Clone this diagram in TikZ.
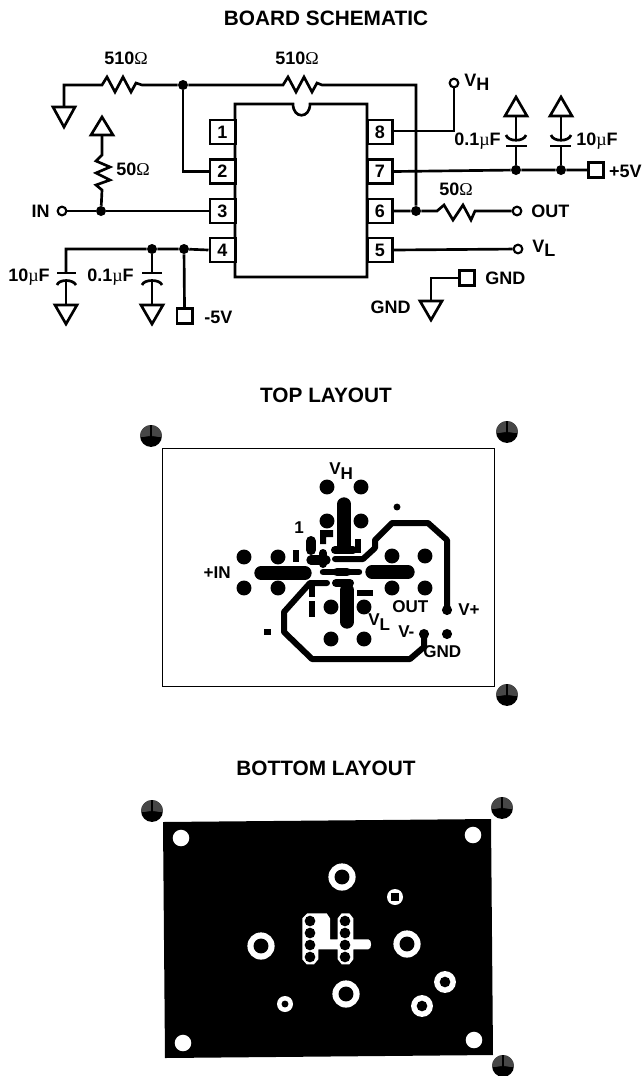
\documentclass[tikz,border=0pt]{standalone}
\usepackage{fontspec}
\setmainfont{Liberation Sans}
\newfontfamily\symf{Liberation Serif}
\newcommand{\Om}{{\symf\mdseries Ω}}
\newcommand{\Mu}{{\symf\mdseries µ}}
\newcommand{\Sb}[1]{\raisebox{-3.2pt}{#1}}
\tikzset{
  wire/.style={line width=2pt,line cap=butt,line join=miter},
  lab/.style={font=\fontsize{13.5}{14}\selectfont\bfseries,inner sep=0pt},
  llab/.style={font=\fontsize{12.8}{14}\selectfont\bfseries,inner sep=0pt},
  ttl/.style={font=\fontsize{15.6}{17}\selectfont\bfseries,inner sep=0pt},
  pinbox/.style={draw,line width=2pt,minimum width=19pt,minimum height=18pt,inner sep=0pt,fill=white,font=\fontsize{13.5}{14}\selectfont\bfseries},
  term/.style={draw,line width=2pt,minimum width=11.5pt,minimum height=11.5pt,inner sep=0pt,fill=white},
  opent/.style={circle,draw,line width=1.6pt,minimum size=6.5pt,inner sep=0pt,fill=white},
  dotj/.style={circle,fill=black,minimum size=7.5pt,inner sep=0pt},
  trace/.style={line width=4.5pt,line cap=round,line join=round},
  fat/.style={line width=10pt,line cap=round},
}
\newcommand{\FidB}[2]{%
  \fill[black] (#1,#2) circle[radius=8.2pt];
  \begin{scope}
    \clip (#1-11,#2-11) rectangle (#1+11,#2);
    \fill[black!72] (#1,#2) circle[radius=8.2pt];
    \foreach \a in {10,30,...,170} \draw[black,line width=.4pt] (#1,#2) -- ++(\a:-8.2pt);
    \draw[black,line width=.8pt] (#1,#2) -- ++(0,-11);
  \end{scope}
}
\newcommand{\Tri}[4]{% name, x, base y, apex y
  \coordinate (#1) at (#2,#3);
  \draw[wire,line join=miter] (#2-11,#3) -- (#2+11,#3) -- (#2,#4) -- cycle;
}
\begin{document}
\begin{tikzpicture}[x=0.75pt,y=-0.75pt]
\useasboundingbox (0,0) rectangle (642,1076);

% ---------- Titles
\node[ttl] (t1) at (326,18) {BOARD SCHEMATIC};
\node[ttl] (t2) at (326,395) {TOP LAYOUT};
\node[ttl] (t3) at (326,768) {BOTTOM LAYOUT};

% ---------- IC
\draw[wire] (235,104) -- (293,104) .. controls (293,119) and (310,119) .. (310,104) -- (367,104) -- (367,277) -- (235,277) -- cycle;
\node[minimum width=99pt,minimum height=130pt,inner sep=0pt] (ic) at (301,190) {};
\node[pinbox] (p1) at (222.5,132) {1};
\node[pinbox] (p2) at (222.5,171.5) {2};
\node[pinbox] (p3) at (222.5,211) {3};
\node[pinbox] (p4) at (222.5,250) {4};
\node[pinbox] (p8) at (380,132) {8};
\node[pinbox] (p7) at (380,171.5) {7};
\node[pinbox] (p6) at (380,211) {6};
\node[pinbox] (p5) at (380,250) {5};

% ---------- junctions
\node[dotj] (j1) at (183,85) {};
\node[dotj] (j2) at (101,211) {};
\node[dotj] (j3) at (152,249) {};
\node[dotj] (j4) at (184,249) {};
\node[dotj] (j5) at (416,211) {};
\node[dotj] (j6) at (516,170) {};
\node[dotj] (j7) at (561,170) {};

% ---------- terminals
\node[opent] (in) at (62,211) {};
\node[opent] (vh) at (454,83) {};
\node[opent] (out) at (517,211) {};
\node[opent] (vl) at (518,249) {};
\node[term] (m5) at (184.5,316) {};
\node[term] (p5v) at (596,170) {};
\node[term] (gt) at (467,278) {};

% ---------- top wires and resistors
\Tri{g1}{64}{107}{127}
\coordinate (r1a) at (102,85);
\coordinate (r1b) at (142,85);
\draw[wire] (g1) |- (r1a) -- ++(5,-8) -- ++(8,15) -- ++(8,-15) -- ++(8,15) -- ++(5,-9) -- (r1b) -- (j1);
\coordinate (r2a) at (283,85);
\coordinate (r2b) at (322,85);
\coordinate (fb) at (416,85);
\draw[wire] (j1) -- (r2a) -- ++(5,-8) -- ++(8,15) -- ++(8,-15) -- ++(8,15) -- ++(5,-9) -- (r2b) -- (fb) -- (j5);
\draw[wire] (j1) |- (p2.west);

% ---------- 50 ohm input
\Tri{g2}{102}{135}{117}
\coordinate (r3a) at (102,155);
\coordinate (r3b) at (102,190);
\draw[wire] (g2) -- (r3a) -- ++(-6,6) -- ++(14,6) -- ++(-14,6) -- ++(14,7) -- ++(-14,5) -- (r3b) -- (j2);
\draw[wire] (in) -- (j2) -- (p3.west);

% ---------- pin 4 and caps
\coordinate (c1t) at (66,249);
\draw[wire] (p4.west) -- (j4) -- (j3) -- (c1t) -- (66,273);
\draw[wire] (57,273) -- (76,273);
\draw[wire] (57,285) .. controls (59,279) and (73,279) .. (76,285);
\Tri{g3}{66}{305}{324}
\draw[wire] (66,281) -- (g3);
\draw[wire] (j3) -- (152,273);
\draw[wire] (142,273) -- (162,273);
\draw[wire] (142,285) .. controls (144,279) and (160,279) .. (162,285);
\Tri{g4}{152}{305}{324}
\draw[wire] (152,281) -- (g4);
\draw[wire] (j4) -- (m5.north);

% ---------- right side
\draw[wire] (vh) -- (454,131) -- (p8.east |- 454,131);
\draw[wire] (p7.east) -- (j6) -- (j7) -- (p5v.west);
\Tri{g5}{516}{116}{97}
\Tri{g6}{561}{116}{97}
\draw[wire] (g5) -- (516,140);
\draw[wire] (506,135) .. controls (508,142) and (524,142) .. (526,135);
\draw[wire] (506,146) -- (527,146);
\draw[wire] (516,146) -- (j6);
\draw[wire] (g6) -- (561,140);
\draw[wire] (551,135) .. controls (553,142) and (569,142) .. (571,135);
\draw[wire] (550,146) -- (571,146);
\draw[wire] (561,146) -- (j7);
\coordinate (r4a) at (437,211);
\coordinate (r4b) at (475,211);
\draw[wire] (p6.east) -- (j5) -- (r4a) -- ++(7,-6) -- ++(9,15) -- ++(10,-15) -- ++(8,15) -- (r4b) -- (out);
\draw[wire] (p5.east) -- (vl);
\Tri{g7}{431}{301}{320}
\draw[wire] (g7) |- (gt.west);

% ---------- schematic labels
\node[lab,anchor=center] (l1) at (126,58) {510\Om};
\node[lab,anchor=center] (l2) at (297,58) {510\Om};
\node[lab,anchor=west] (l3) at (116,169) {50\Om};
\node[lab,anchor=east] (l4) at (50,211) {IN};
\node[lab,anchor=east] (l5) at (50,277) {10\Mu F};
\node[lab,anchor=east] (l6) at (134,277) {0.1\Mu F};
\node[lab,anchor=west] (l7) at (204,317) {-5V};
\node[lab,anchor=west] (l8) at (464,82) {V\Sb{H}};
\node[lab,anchor=east] (l9) at (501,141) {0.1\Mu F};
\node[lab,anchor=west] (l10) at (576,141) {10\Mu F};
\node[lab,anchor=east] (l11) at (642,171) {+5V};
\node[lab,anchor=center] (l12) at (456,189) {50\Om};
\node[lab,anchor=west] (l13) at (531,211) {OUT};
\node[lab,anchor=west] (l14) at (532,248) {V\Sb{L}};
\node[lab,anchor=west] (l15) at (485,278) {GND};
\node[lab,anchor=east] (l16) at (411,307) {GND};

% ---------- TOP LAYOUT
\draw[line width=.6pt] (162,448) rectangle (494,686);
\FidB{151}{436}
\FidB{507}{432}
\FidB{507}{695}
\foreach \x/\y in {327/487,361/487,327/521,361/521,244/557,278/557,244/588,278/588,392/556,425/556,392/588,425/588,331/607,364/607,331/639,364/639}
  \fill (\x,\y) circle[radius=5.6pt];
\fill (397,507) circle[radius=2.6pt];
\fill (447,610) circle[radius=3.8pt];
\fill (447,634) circle[radius=3.8pt];
\fill (424,634) circle[radius=3.8pt];
\fill (263.5,629) rectangle (270.5,635);
\draw[fat] (344,504) -- (344,545);
\draw[fat] (261,573) -- (305,573);
\draw[fat] (372,572) -- (408,572);
\draw[fat] (347,590) -- (347,622);
\draw[line width=4.8pt,line cap=round] (323,572) -- (359,572);
\draw[line width=6.5pt,line cap=round] (337,572) -- (347,572);
\draw[trace] (447,610) -- (447,540) -- (428,523) -- (392,523) -- (375,540) -- (375,548) -- (363,559) -- (335,559);
\draw[trace] (424,634) -- (424,647) -- (410,659) -- (312,659) -- (284,632) -- (284,612) -- (310,583) -- (327,583);
\draw[line width=6pt,line cap=round] (335,550) -- (353,550);
\draw[line width=6pt,line cap=round] (336,583) -- (350,583);
\draw[line width=7pt,line cap=round] (311,560) -- (326,560);
\draw[line width=6pt,line cap=round] (323,553) -- (323,564);
\draw[line width=7.5pt,line cap=round] (311,541) -- (311,550);
\fill (293,550) rectangle (299,562);
\fill (355,539) rectangle (361,553);
\fill (320,530) -- (333,530) -- (333,537) -- (326,537) -- (326,544) -- (320,544) -- cycle;
\fill (357,590) rectangle (373,596);
\fill (308.5,601) rectangle (315,617);
\draw[line width=4.5pt] (312,585) -- (312,597);
\node[llab,anchor=west] (a1) at (329,471) {V\Sb{H}};
\node[llab] (a2) at (299,528) {1};
\node[llab,anchor=east] (a3) at (231,573) {+IN};
\node[llab,anchor=west] (a4) at (392,607) {OUT};
\node[llab,anchor=west] (a5) at (458,610) {V+};
\node[llab,anchor=west] (a6) at (368,622) {V\Sb{L}};
\node[llab,anchor=west] (a7) at (398,632) {V-};
\node[llab,anchor=west] (a8) at (423,652) {GND};

% ---------- BOTTOM LAYOUT
\fill[black] (163,822) -- (491,819) -- (493,1055) -- (165,1058) -- cycle;
\FidB{152}{811}
\FidB{502}{808}
\FidB{503}{1066}
\foreach \x/\y in {181/838,473/835,183/1043,474/1040}
  \fill[white] (\x,\y) circle[radius=6.2pt];
\foreach \x/\y in {342/877,261/946,407/944,346/994} {
  \fill[white] (\x,\y) circle[radius=10.2pt];
  \fill[black] (\x,\y) circle[radius=5.6pt];
}
\foreach \x/\y in {445/982,422/1006} {
  \fill[white] (\x,\y) circle[radius=8.2pt];
  \fill[black] (\x,\y) circle[radius=4pt];
}
\fill[white] (285,1004) circle[radius=6pt];
\fill[black] (285,1004) circle[radius=2.6pt];
\fill[white] (395,897) circle[radius=6pt];
\fill[black] (391,893) rectangle (399,901);
\fill[white] (307.3,913.3) -- (326.7,913.3) -- (330,918.3) -- (330,939.3) -- (337.7,939.3) -- (337.7,918.3) -- (341.7,913.3) -- (349.3,913.3) -- (353.3,918.3) -- (353.3,939.3) -- (368.3,939.3) .. controls (372,939.3) and (372,949.3) .. (368.3,949.3) -- (353.3,949.3) -- (353.3,959.3) -- (349.3,964.3) -- (341.7,964.3) -- (337.7,959.3) -- (337.7,949.3) -- (318.3,949.3) -- (318.3,959.3) -- (314,964.3) -- (306.7,964.3) -- (302.3,959.3) -- (302.3,918.3) -- cycle;
\foreach \x in {310,345} \foreach \y in {921,933,945,957}
  \fill[black] (\x,\y) circle[radius=4pt];
\end{tikzpicture}
\end{document}
